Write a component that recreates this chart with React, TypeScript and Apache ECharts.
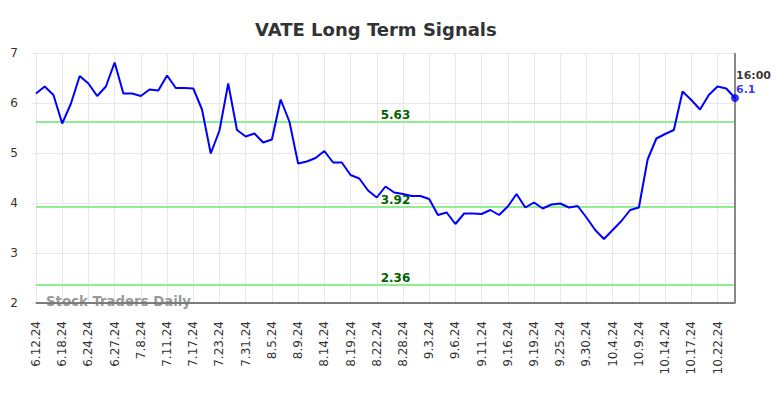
import React, { useEffect, useRef } from "react";
import * as echarts from "echarts";

const dates: string[] = [
  "6.12.24", "6.13.24", "6.14.24", "6.18.24", "6.20.24", "6.21.24", "6.24.24", "6.25.24", "6.26.24",
  "6.27.24", "6.28.24", "7.5.24", "7.8.24", "7.9.24", "7.10.24", "7.11.24", "7.12.24", "7.16.24",
  "7.17.24", "7.18.24", "7.22.24", "7.23.24", "7.25.24", "7.29.24", "7.31.24", "8.1.24", "8.2.24",
  "8.5.24", "8.6.24", "8.8.24", "8.9.24", "8.12.24", "8.13.24", "8.14.24", "8.15.24", "8.16.24",
  "8.19.24", "8.20.24", "8.21.24", "8.22.24", "8.23.24", "8.26.24", "8.28.24", "8.29.24", "8.30.24",
  "9.3.24", "9.4.24", "9.5.24", "9.6.24", "9.9.24", "9.10.24", "9.11.24", "9.12.24", "9.13.24",
  "9.16.24", "9.17.24", "9.18.24", "9.19.24", "9.20.24", "9.24.24", "9.25.24", "9.26.24", "9.27.24",
  "9.30.24", "10.1.24", "10.2.24", "10.4.24", "10.7.24", "10.8.24", "10.9.24", "10.10.24", "10.11.24",
  "10.14.24", "10.15.24", "10.16.24", "10.17.24", "10.18.24", "10.21.24", "10.22.24", "10.23.24", "10.24.24",
];

const prices: number[] = [
  6.19, 6.33, 6.16, 5.59, 5.99, 6.54, 6.39, 6.14, 6.33, 6.81,
  6.19, 6.19, 6.14, 6.27, 6.25, 6.55, 6.30, 6.30, 6.29, 5.87,
  4.99, 5.45, 6.39, 5.46, 5.33, 5.39, 5.21, 5.27, 6.07, 5.63,
  4.79, 4.83, 4.90, 5.04, 4.81, 4.81, 4.56, 4.49, 4.25, 4.11,
  4.33, 4.21, 4.18, 4.14, 4.14, 4.08, 3.76, 3.81, 3.58, 3.79,
  3.79, 3.78, 3.86, 3.76, 3.93, 4.18, 3.91, 4.01, 3.89, 3.97,
  3.99, 3.91, 3.94, 3.71, 3.46, 3.28, 3.46, 3.64, 3.86, 3.91,
  4.87, 5.29, 5.38, 5.46, 6.23, 6.06, 5.87, 6.16, 6.33, 6.29,
  6.1,
];

const signalLevels: number[] = [5.63, 3.92, 2.36];
const lastTime = "16:00";

export default function App() {
  const ref = useRef<HTMLDivElement>(null);
  useEffect(() => {
    if (!ref.current) return;
    const chart = echarts.init(ref.current, null, { renderer: "svg" });
    const lastIdx = prices.length - 1;
    const lastVal = prices[lastIdx];
    chart.setOption({
      animation: false,
      title: {
        text: "VATE Long Term Signals",
        left: 250,
        top: 15,
        textStyle: { fontFamily: "DejaVu Sans", fontWeight: "bold", fontSize: 18, color: "#333" },
      },
      grid: { left: 36, right: 49, top: 53, bottom: 95, containLabel: false },
      xAxis: {
        type: "category",
        data: dates,
        boundaryGap: false,
        axisLine: { lineStyle: { color: "#555", width: 1.5 } },
        axisTick: { show: false },
        axisLabel: {
          interval: 2,
          rotate: 90,
          margin: 18,
          fontFamily: "DejaVu Sans",
          fontSize: 12,
          color: "#333",
        },
        splitLine: { show: true, interval: 2, lineStyle: { color: "#e8e8e8", width: 1 } },
      },
      yAxis: {
        type: "value",
        min: 2,
        max: 7,
        interval: 1,
        axisLine: { show: false },
        axisTick: { show: true, length: 4, lineStyle: { color: "#e8e8e8" } },
        axisLabel: { margin: 18, fontFamily: "DejaVu Sans", fontSize: 12, color: "#333" },
        splitLine: { show: true, lineStyle: { color: "#e8e8e8", width: 1 } },
      },
      graphic: [
        {
          type: "text",
          left: 46,
          top: 295,
          style: {
            text: "Stock Traders Daily",
            fontFamily: "DejaVu Sans",
            fontWeight: "bold",
            fontSize: 13.3,
            fill: "rgba(120,120,120,0.75)",
          },
          z: 10,
        },
      ],
      series: [
        {
          type: "line",
          data: prices,
          symbol: "none",
          lineStyle: { color: "#0000ff", width: 2 },
          z: 5,
          markLine: {
            silent: true,
            symbol: "none",
            data: [
              ...signalLevels.map((v) => ({
                yAxis: v,
                lineStyle: { color: "#90ee90", width: 2, type: "solid" },
                label: {
                  show: true,
                  position: "insideMiddleTop",
                  distance: 1,
                  offset: [10, 0],
                  formatter: v.toFixed(2),
                  fontFamily: "DejaVu Sans",
                  fontWeight: "bold",
                  fontSize: 12,
                  color: "#006400",
                },
              })),
              {
                xAxis: lastIdx,
                lineStyle: { color: "#888", width: 2, type: "solid" },
                label: { show: false },
              },
            ],
          },
        },
        {
          type: "scatter",
          data: [[lastIdx, lastVal]],
          symbol: "circle",
          symbolSize: 8,
          itemStyle: { color: "#0000ff" },
          z: 6,
          label: {
            show: true,
            position: [5, -26],
            formatter: `{a|${lastTime}}\n{b|${lastVal}}`,
            rich: {
              a: { fontFamily: "DejaVu Sans", fontWeight: "bold", fontSize: 11, color: "#000", lineHeight: 14 },
              b: { fontFamily: "DejaVu Sans", fontWeight: "bold", fontSize: 11, color: "#0000ff", lineHeight: 14 },
            },
          },
        },
      ],
    });
    return () => chart.dispose();
  }, []);
  return <div ref={ref} style={{ width: 784, height: 398, position: "absolute", left: 0, top: 0 }} />;
}
